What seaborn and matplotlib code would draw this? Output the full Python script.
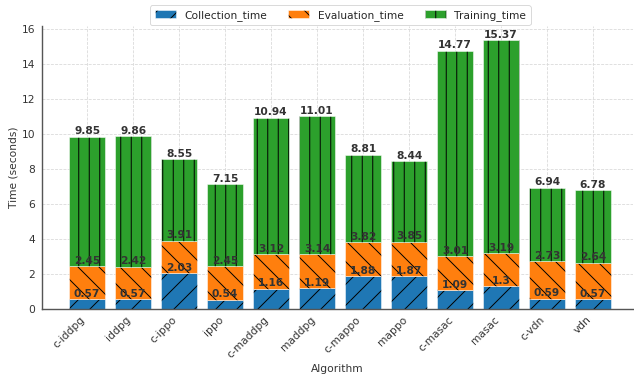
import matplotlib
matplotlib.use("Agg")
import matplotlib.pyplot as plt
import seaborn as sns
import pandas as pd
import numpy as np

algorithms = ["c-iddpg", "iddpg", "c-ippo", "ippo", "c-maddpg", "maddpg",
              "c-mappo", "mappo", "c-masac", "masac", "c-vdn", "vdn"]
collection_time = [0.57, 0.57, 2.03, 0.54, 1.16, 1.19, 1.88, 1.87, 1.09, 1.30, 0.59, 0.57]
collection_eval_cum = [2.45, 2.42, 3.91, 2.45, 3.12, 3.14, 3.82, 3.85, 3.01, 3.19, 2.73, 2.64]
total_time = [9.85, 9.86, 8.55, 7.15, 10.94, 11.01, 8.81, 8.44, 14.77, 15.37, 6.94, 6.78]

evaluation_time = [round(c2 - c1, 2) for c1, c2 in zip(collection_time, collection_eval_cum)]
training_time = [round(t - c2, 2) for t, c2 in zip(total_time, collection_eval_cum)]

df = pd.DataFrame({"Algorithm": algorithms,
                   "Collection_time": collection_time,
                   "Evaluation_time": evaluation_time,
                   "Training_time": training_time})

sns.set_style("whitegrid", {"grid.linestyle": "--"})
plt.rcParams["font.family"] = ["DejaVu Sans"]
plt.rcParams["hatch.linewidth"] = 1.1

DPI = 63.4
fig = plt.figure(figsize=(634 / DPI, 375 / DPI), dpi=DPI)
ax = fig.add_axes([42 / 634, 1 - 309 / 375, 591 / 634, (309 - 26.4) / 375])

layers = [("Collection_time", "#1f77b4", "/", np.zeros(len(df))),
          ("Evaluation_time", "#ff7f0e", "\\", np.array(collection_time)),
          ("Training_time", "#2ca02c", "|", np.array(collection_eval_cum))]

handles = []
for name, color, hatch, bottom in layers:
    n_before = len(ax.patches)
    sns.barplot(data=df, x="Algorithm", y=name, color=color, bottom=bottom,
                width=0.8, ax=ax, saturation=1, label=name,
                edgecolor="black", linewidth=0)
    for p in ax.patches[n_before:]:
        p.set_hatch(hatch)
        p.set_edgecolor((1, 1, 1, 0.55))
        p.set_linewidth(1.0)
        p._hatch_color = (0, 0, 0, 1)
    handles.append(ax.patches[n_before])

xs = np.arange(len(algorithms))
for vals in [collection_time, collection_eval_cum, total_time]:
    for x, v in zip(xs, vals):
        ax.text(x, v + 0.02, f"{v:g}", ha="center", va="bottom",
                fontsize=12, fontweight="bold", color="#333333")

ax.set_ylim(0, 16.15)
ax.set_xlim(-0.98, 11.87)
ax.set_yticks([0, 2, 4, 6, 8, 10, 12, 14, 16])
ax.set_xlabel("Algorithm", fontsize=12, color="#333333")
ax.set_ylabel("Time (seconds)", fontsize=12, color="#333333")
ax.tick_params(axis="x", labelsize=12, labelcolor="#333333", rotation=45, pad=3)
ax.tick_params(axis="y", labelsize=12, labelcolor="#333333", pad=4)
for lbl in ax.get_xticklabels():
    lbl.set_ha("right")
ax.grid(True, color="#d9d9d9", linestyle="--", linewidth=0.9)
ax.spines["top"].set_visible(False)
ax.spines["right"].set_visible(False)
for s in ["left", "bottom"]:
    ax.spines[s].set_color("#555555")
    ax.spines[s].set_linewidth(1.6)

ax.legend(handles=handles, labels=["Collection_time", "Evaluation_time", "Training_time"],
          loc="lower center", bbox_to_anchor=(0.505, 1.0), ncol=3, fontsize=12,
          frameon=True, fancybox=True, borderaxespad=0.15, columnspacing=2.0)

fig.savefig("out.png", dpi=DPI)
